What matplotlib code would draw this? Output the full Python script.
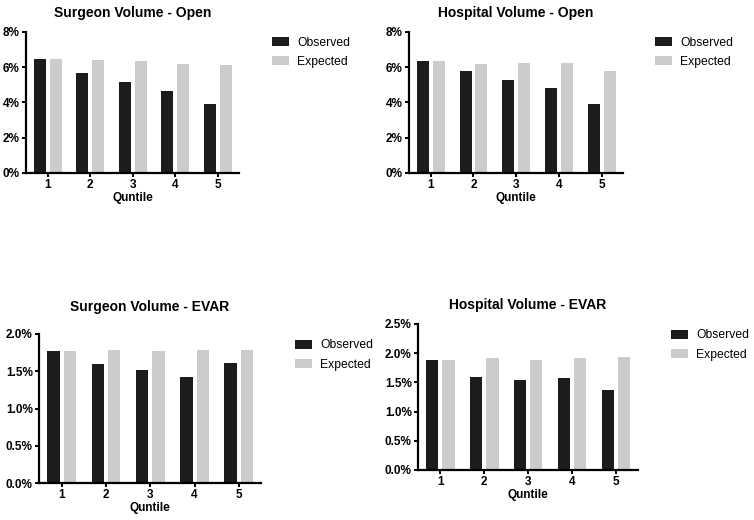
import matplotlib
matplotlib.use("Agg")
import matplotlib.pyplot as plt
import numpy as np
from matplotlib.ticker import FuncFormatter

plt.rcParams['font.family'] = ['Liberation Sans', 'DejaVu Sans']

quintiles = [1, 2, 3, 4, 5]
series_names = ["Observed", "Expected"]

surgeon_open_obs = [6.48, 5.65, 5.16, 4.65, 3.89]
surgeon_open_exp = [6.48, 6.39, 6.35, 6.18, 6.11]
hospital_open_obs = [6.35, 5.77, 5.26, 4.82, 3.89]
hospital_open_exp = [6.35, 6.20, 6.22, 6.24, 5.80]
surgeon_evar_obs = [1.776, 1.597, 1.517, 1.423, 1.615]
surgeon_evar_exp = [1.776, 1.785, 1.776, 1.785, 1.785]
hospital_evar_obs = [1.89, 1.60, 1.54, 1.57, 1.37]
hospital_evar_exp = [1.89, 1.92, 1.89, 1.92, 1.94]

titles = ["Surgeon Volume - Open", "Hospital Volume - Open",
          "Surgeon Volume - EVAR", "Hospital Volume - EVAR"]
xlabel = "Quntile"

W, H = 754, 520
fig = plt.figure(figsize=(W / 100, H / 100), dpi=100)

def px_axes(l, t, r, b):
    return fig.add_axes([l / W, 1 - b / H, (r - l) / W, (b - t) / H])

panels = [
    dict(box=(26, 32, 239, 173), obs=surgeon_open_obs, exp=surgeon_open_exp,
         ymax=8, yticks=[0, 2, 4, 6, 8], fmt="{:.0f}%", pad=10.8,
         leg=(272, 36.5)),
    dict(box=(409, 32, 623, 173), obs=hospital_open_obs, exp=hospital_open_exp,
         ymax=8, yticks=[0, 2, 4, 6, 8], fmt="{:.0f}%", pad=10.8,
         leg=(655, 36.5)),
    dict(box=(39, 334, 261, 483), obs=surgeon_evar_obs, exp=surgeon_evar_exp,
         ymax=2.0, yticks=[0, 0.5, 1.0, 1.5, 2.0], fmt="{:.1f}%", pad=16.5,
         leg=(295, 339.5)),
    dict(box=(418, 324, 638, 470), obs=hospital_evar_obs, exp=hospital_evar_exp,
         ymax=2.5, yticks=[0, 0.5, 1.0, 1.5, 2.0, 2.5], fmt="{:.1f}%", pad=10.8,
         leg=(671, 329.5)),
]

obs_color = "#1c1c1c"
exp_color = "#cccccc"
bw = 0.28
off = 0.185

for p, title in zip(panels, titles):
    ax = px_axes(*p["box"])
    x = np.array(quintiles, dtype=float)
    ax.bar(x - off, p["obs"], width=bw, color=obs_color, label=series_names[0])
    ax.bar(x + off, p["exp"], width=bw, color=exp_color, label=series_names[1])
    ax.set_xlim(0.49, 5.5)
    ax.set_ylim(0, p["ymax"])
    ax.set_yticks(p["yticks"])
    fmt = p["fmt"]
    ax.yaxis.set_major_formatter(FuncFormatter(lambda v, pos, f=fmt: f.format(v)))
    ax.set_xticks(quintiles)
    ax.set_xticklabels([str(q) for q in quintiles])
    for s in ["top", "right"]:
        ax.spines[s].set_visible(False)
    for s in ["left", "bottom"]:
        ax.spines[s].set_linewidth(1.6)
        ax.spines[s].set_color("black")
    ax.tick_params(axis="both", width=1.4, length=3, labelsize=8.5, pad=1.5)
    for lab in ax.get_xticklabels() + ax.get_yticklabels():
        lab.set_fontweight("bold")
    ax.set_xlabel(xlabel, fontsize=8.5, fontweight="bold", labelpad=0.5)
    ax.set_title(title, fontsize=10, fontweight="bold", pad=p["pad"])
    lx, ly = p["leg"]
    ax.legend(loc="upper left", bbox_to_anchor=(lx / W, 1 - ly / H),
              bbox_transform=fig.transFigure, frameon=False, fontsize=8.7,
              handlelength=1.4, handleheight=0.75, handletextpad=0.7,
              labelspacing=0.6, borderpad=0, borderaxespad=0)

fig.savefig("out.png", dpi=100)
